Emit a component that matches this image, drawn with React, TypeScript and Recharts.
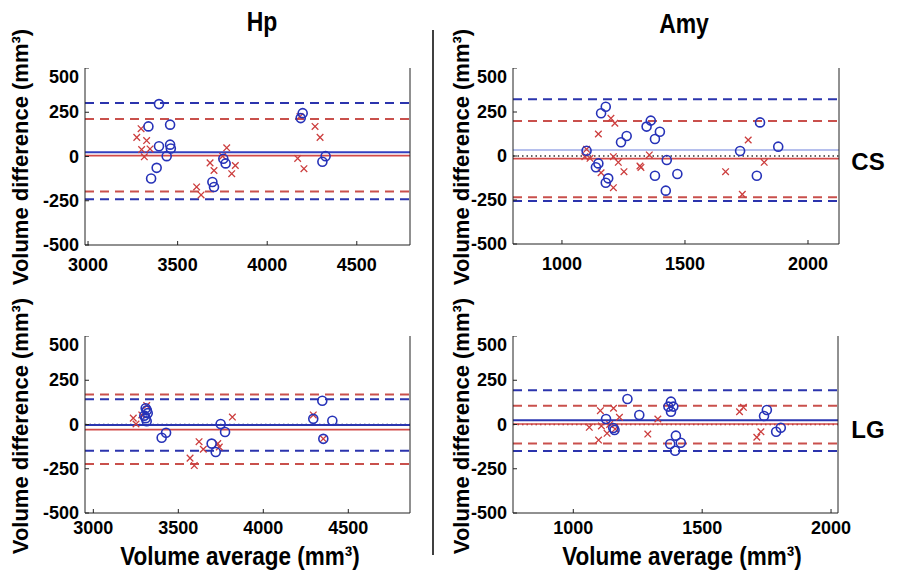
import React from 'react';
import { ScatterChart, Scatter, XAxis, YAxis, ReferenceLine } from 'recharts';

// Bland-Altman panels: blue circles and red crosses, mean + limits lines
const hpCsBlue = [
  { x: 3396, y: 296 }, { x: 3337, y: 170 }, { x: 3458, y: 180 }, { x: 3396, y: 58 },
  { x: 3458, y: 67 }, { x: 3462, y: 45 }, { x: 3439, y: 2 }, { x: 3383, y: -64 },
  { x: 3352, y: -124 }, { x: 3694, y: -144 }, { x: 3703, y: -172 }, { x: 3755, y: -13 },
  { x: 3768, y: -39 }, { x: 4187, y: 217 }, { x: 4198, y: 245 }, { x: 4308, y: -30 },
  { x: 4326, y: 2 },
];
const hpCsRed = [
  { x: 3296, y: 157 }, { x: 3272, y: 108 }, { x: 3327, y: 90 }, { x: 3299, y: 39 },
  { x: 3346, y: 43 }, { x: 3314, y: -2 }, { x: 3606, y: -172 }, { x: 3631, y: -217 },
  { x: 3681, y: -36 }, { x: 3703, y: -79 }, { x: 3774, y: 49 }, { x: 3751, y: 2 },
  { x: 3802, y: -97 }, { x: 3822, y: -51 }, { x: 4183, y: 226 }, { x: 4267, y: 170 },
  { x: 4295, y: 108 }, { x: 4170, y: -11 }, { x: 4205, y: -69 },
];
const amyCsBlue = [
  { x: 1178, y: 280 }, { x: 1159, y: 243 }, { x: 1361, y: 201 }, { x: 1344, y: 167 },
  { x: 1398, y: 138 }, { x: 1378, y: 97 }, { x: 1263, y: 114 }, { x: 1240, y: 78 },
  { x: 1100, y: 30 }, { x: 1148, y: -42 }, { x: 1138, y: -64 }, { x: 1188, y: -127 },
  { x: 1178, y: -152 }, { x: 1426, y: -23 }, { x: 1378, y: -112 }, { x: 1469, y: -102 },
  { x: 1422, y: -197 }, { x: 1724, y: 28 }, { x: 1805, y: 191 }, { x: 1792, y: -112 },
  { x: 1879, y: 53 },
];
const amyCsRed = [
  { x: 1199, y: 214 }, { x: 1215, y: 186 }, { x: 1148, y: 125 }, { x: 1100, y: 38 },
  { x: 1093, y: -4 }, { x: 1114, y: -13 }, { x: 1159, y: -95 }, { x: 1209, y: -180 },
  { x: 1209, y: -4 }, { x: 1229, y: -36 }, { x: 1252, y: -89 }, { x: 1317, y: -57 },
  { x: 1321, y: -65 }, { x: 1355, y: 6 }, { x: 1665, y: -89 }, { x: 1757, y: 91 },
  { x: 1733, y: -218 }, { x: 1822, y: -36 },
];
const hpLgBlue = [
  { x: 3308, y: 92 }, { x: 3320, y: 64 }, { x: 3308, y: 36 }, { x: 3314, y: 18 },
  { x: 3300, y: 50 }, { x: 3315, y: 80 }, { x: 3428, y: -47 }, { x: 3402, y: -75 },
  { x: 3749, y: 3 }, { x: 3775, y: -42 }, { x: 3696, y: -108 }, { x: 3720, y: -155 },
  { x: 4347, y: 134 }, { x: 4294, y: 32 }, { x: 4406, y: 21 }, { x: 4353, y: -81 },
];
const hpLgRed = [
  { x: 3235, y: 36 }, { x: 3251, y: 3 }, { x: 3285, y: 54 }, { x: 3314, y: 107 },
  { x: 3818, y: 42 }, { x: 3622, y: -97 }, { x: 3647, y: -140 }, { x: 3569, y: -190 },
  { x: 3594, y: -232 }, { x: 3732, y: -108 }, { x: 3741, y: -127 }, { x: 4294, y: 54 },
  { x: 4353, y: -81 },
];
const amyLgBlue = [
  { x: 1210, y: 144 }, { x: 1127, y: 31 }, { x: 1160, y: -31 }, { x: 1155, y: -20 },
  { x: 1256, y: 54 }, { x: 1379, y: 129 }, { x: 1369, y: 101 }, { x: 1388, y: 101 },
  { x: 1379, y: 72 }, { x: 1398, y: -63 }, { x: 1376, y: -110 }, { x: 1417, y: -103 },
  { x: 1395, y: -148 }, { x: 1751, y: 82 }, { x: 1740, y: 48 }, { x: 1805, y: -18 },
  { x: 1787, y: -41 },
];
const amyLgRed = [
  { x: 1105, y: 78 }, { x: 1156, y: 92 }, { x: 1179, y: 41 }, { x: 1062, y: -16 },
  { x: 1109, y: -8 }, { x: 1131, y: -50 }, { x: 1098, y: -88 }, { x: 1141, y: 0 },
  { x: 1162, y: -26 }, { x: 1328, y: 31 }, { x: 1289, y: -54 }, { x: 1645, y: 72 },
  { x: 1660, y: 97 }, { x: 1712, y: -72 }, { x: 1728, y: -41 },
];

// [mean, upper, lower]
const hpCsBlueLines = [24, 302, -242];
const hpCsRedLines = [5, 212, -198];
const amyCsBlueLines = [34, 322, -256];
const amyCsRedLines = [-15, 199, -235];
const hpLgBlueLines = [-3, 142, -149];
const hpLgRedLines = [-29, 169, -223];
const amyLgBlueLines = [24, 193, -150];
const amyLgRedLines = [3, 106, -108];

const yTicks = [-500, -250, 0, 250, 500];
const hpTicks = [3000, 3500, 4000, 4500];
const amyTicks = [1000, 1500, 2000];

const FONT = '"Liberation Sans", Arial, Helvetica, sans-serif';
const BLUE = '#2b34ad';
const RED = '#c9504c';
const YW = 60;
const XH = 40;
const PAD_R = 24; // room for the last tick label past the box

const Circle = (p: any) => (
  <circle cx={p.cx} cy={p.cy} r={4.5} fill="none" stroke="#2632b8" strokeWidth={1.6} />
);
const Cross = (p: any) => {
  const s = 3.3;
  return (
    <path
      d={`M${p.cx - s},${p.cy - s}L${p.cx + s},${p.cy + s}M${p.cx - s},${p.cy + s}L${p.cx + s},${p.cy - s}`}
      stroke="#cc3e3e"
      strokeWidth={1.3}
      fill="none"
    />
  );
};

const renderXTick = (p: any) => (
  <text x={p.x} y={p.y} textAnchor="middle" dominantBaseline="central"
    fontFamily={FONT} fontSize={18} fontWeight={700} fill="#000">
    {p.payload.value}
  </text>
);
const renderYTick = (p: any) => (
  <text x={p.x} y={p.y} textAnchor="end" dominantBaseline="central"
    fontFamily={FONT} fontSize={18} fontWeight={700} fill="#000">
    {p.payload.value}
  </text>
);

interface PanelProps {
  left: number;
  top: number;
  w: number;
  h: number;
  xDomain: [number, number];
  xTicks: number[];
  labelGap: number;
  blue: { x: number; y: number }[];
  red: { x: number; y: number }[];
  blueLines: number[];
  redLines: number[];
  blueMeanWidth: number;
  blueMeanColor: string;
  dotColor?: string;
}

function Panel(props: PanelProps) {
  const { left, top, w, h, xDomain, xTicks, blue, red, blueLines, redLines } = props;
  const width = w + YW + 1 + PAD_R;
  return (
    <div style={{ position: 'absolute', left: left - YW, top, width, height: h + XH }}>
      <ScatterChart width={width} height={h + XH} margin={{ top: 0, right: PAD_R, bottom: 0, left: 0 }}>
        <XAxis
          dataKey="x"
          type="number"
          domain={xDomain}
          ticks={xTicks}
          allowDataOverflow
          height={XH}
          tickSize={-4}
          tickMargin={props.labelGap + 4}
          stroke="#222"
          tick={renderXTick}
        />
        <XAxis xAxisId="t" orientation="top" type="number" domain={xDomain} ticks={xTicks} allowDataOverflow height={0} tickSize={-4} tick={false} stroke="#222" />
        <YAxis
          dataKey="y"
          type="number"
          domain={[-500, 500]}
          ticks={yTicks}
          allowDataOverflow
          width={YW}
          tickSize={-4}
          tickMargin={10}
          stroke="#222"
          tick={renderYTick}
        />
        <YAxis yAxisId="r" orientation="right" type="number" domain={[-500, 500]} ticks={yTicks} allowDataOverflow width={1} tickSize={-4} tick={false} stroke="#222" />
        <ReferenceLine y={blueLines[1]} stroke={BLUE} strokeWidth={2} strokeDasharray="9 6" />
        <ReferenceLine y={blueLines[2]} stroke={BLUE} strokeWidth={2} strokeDasharray="9 6" />
        <ReferenceLine y={redLines[1]} stroke={RED} strokeWidth={2} strokeDasharray="9 6" />
        <ReferenceLine y={redLines[2]} stroke={RED} strokeWidth={2} strokeDasharray="9 6" />
        {props.dotColor && <ReferenceLine y={0} stroke={props.dotColor} strokeWidth={1.5} strokeDasharray="1.5 3" />}
        <ReferenceLine y={blueLines[0]} stroke={props.blueMeanColor} strokeWidth={props.blueMeanWidth} />
        <ReferenceLine y={redLines[0]} stroke="#d24a48" strokeWidth={1.6} />
        <Scatter data={red} shape={Cross} isAnimationActive={false} />
        <Scatter data={blue} shape={Circle} isAnimationActive={false} />
      </ScatterChart>
    </div>
  );
}

export default function App() {
  const big = { fontFamily: FONT, fontWeight: 700, fill: '#000' };
  return (
    <div style={{ position: 'absolute', left: 0, top: 0, width: 898, height: 579, background: '#fff', overflow: 'hidden' }}>
      <svg width={898} height={579} style={{ position: 'absolute', left: 0, top: 0 }}>
        <text x={262} y={31} textAnchor="middle" fontSize={27} {...big} transform="translate(262 0) scale(0.85 1) translate(-262 0)">Hp</text>
        <text x={684} y={33} textAnchor="middle" fontSize={27} {...big} transform="translate(684 0) scale(0.85 1) translate(-684 0)">Amy</text>
        <line x1={433} y1={30} x2={433} y2={555} stroke="#000" strokeWidth={1.5} />
        <text x={868} y={170} textAnchor="middle" fontSize={24} {...big}>CS</text>
        <text x={868} y={438} textAnchor="middle" fontSize={24} {...big}>LG</text>
        {[157, 426].map((cy) => (
          <g key={'l' + cy}>
            <text transform={`translate(28 ${cy}) rotate(-90)`} textAnchor="middle" fontSize={22} {...big}>Volume difference (mm³)</text>
            <text transform={`translate(469 ${cy}) rotate(-90)`} textAnchor="middle" fontSize={22} {...big}>Volume difference (mm³)</text>
          </g>
        ))}
        <text x={240} y={565} textAnchor="middle" fontSize={25} {...big} transform="translate(240 0) scale(0.9 1) translate(-240 0)">Volume average (mm³)</text>
        <text x={682} y={565} textAnchor="middle" fontSize={25} {...big} transform="translate(682 0) scale(0.9 1) translate(-682 0)">Volume average (mm³)</text>
      </svg>
      <Panel left={85} top={68} w={325} h={177} xDomain={[2983, 4797]} xTicks={hpTicks} labelGap={20} blue={hpCsBlue} red={hpCsRed}
        blueLines={hpCsBlueLines} redLines={hpCsRedLines} blueMeanWidth={2} blueMeanColor="#3340c0" />
      <Panel left={513} top={68} w={326} h={176} xDomain={[801, 2126]} xTicks={amyTicks} labelGap={20} blue={amyCsBlue} red={amyCsRed}
        blueLines={amyCsBlueLines} redLines={amyCsRedLines} blueMeanWidth={1.2} blueMeanColor="#6d80dc" dotColor="#333" />
      <Panel left={85} top={336} w={325} h={177} xDomain={[2951, 4863]} xTicks={hpTicks} labelGap={15} blue={hpLgBlue} red={hpLgRed}
        blueLines={hpLgBlueLines} redLines={hpLgRedLines} blueMeanWidth={2} blueMeanColor="#2b36b0" dotColor="#1a1a60" />
      <Panel left={513} top={336} w={325} h={177} xDomain={[766, 2027]} xTicks={amyTicks} labelGap={15} blue={amyLgBlue} red={amyLgRed}
        blueLines={amyLgBlueLines} redLines={amyLgRedLines} blueMeanWidth={2} blueMeanColor="#2b36b0" dotColor="#8a1010" />
    </div>
  );
}
